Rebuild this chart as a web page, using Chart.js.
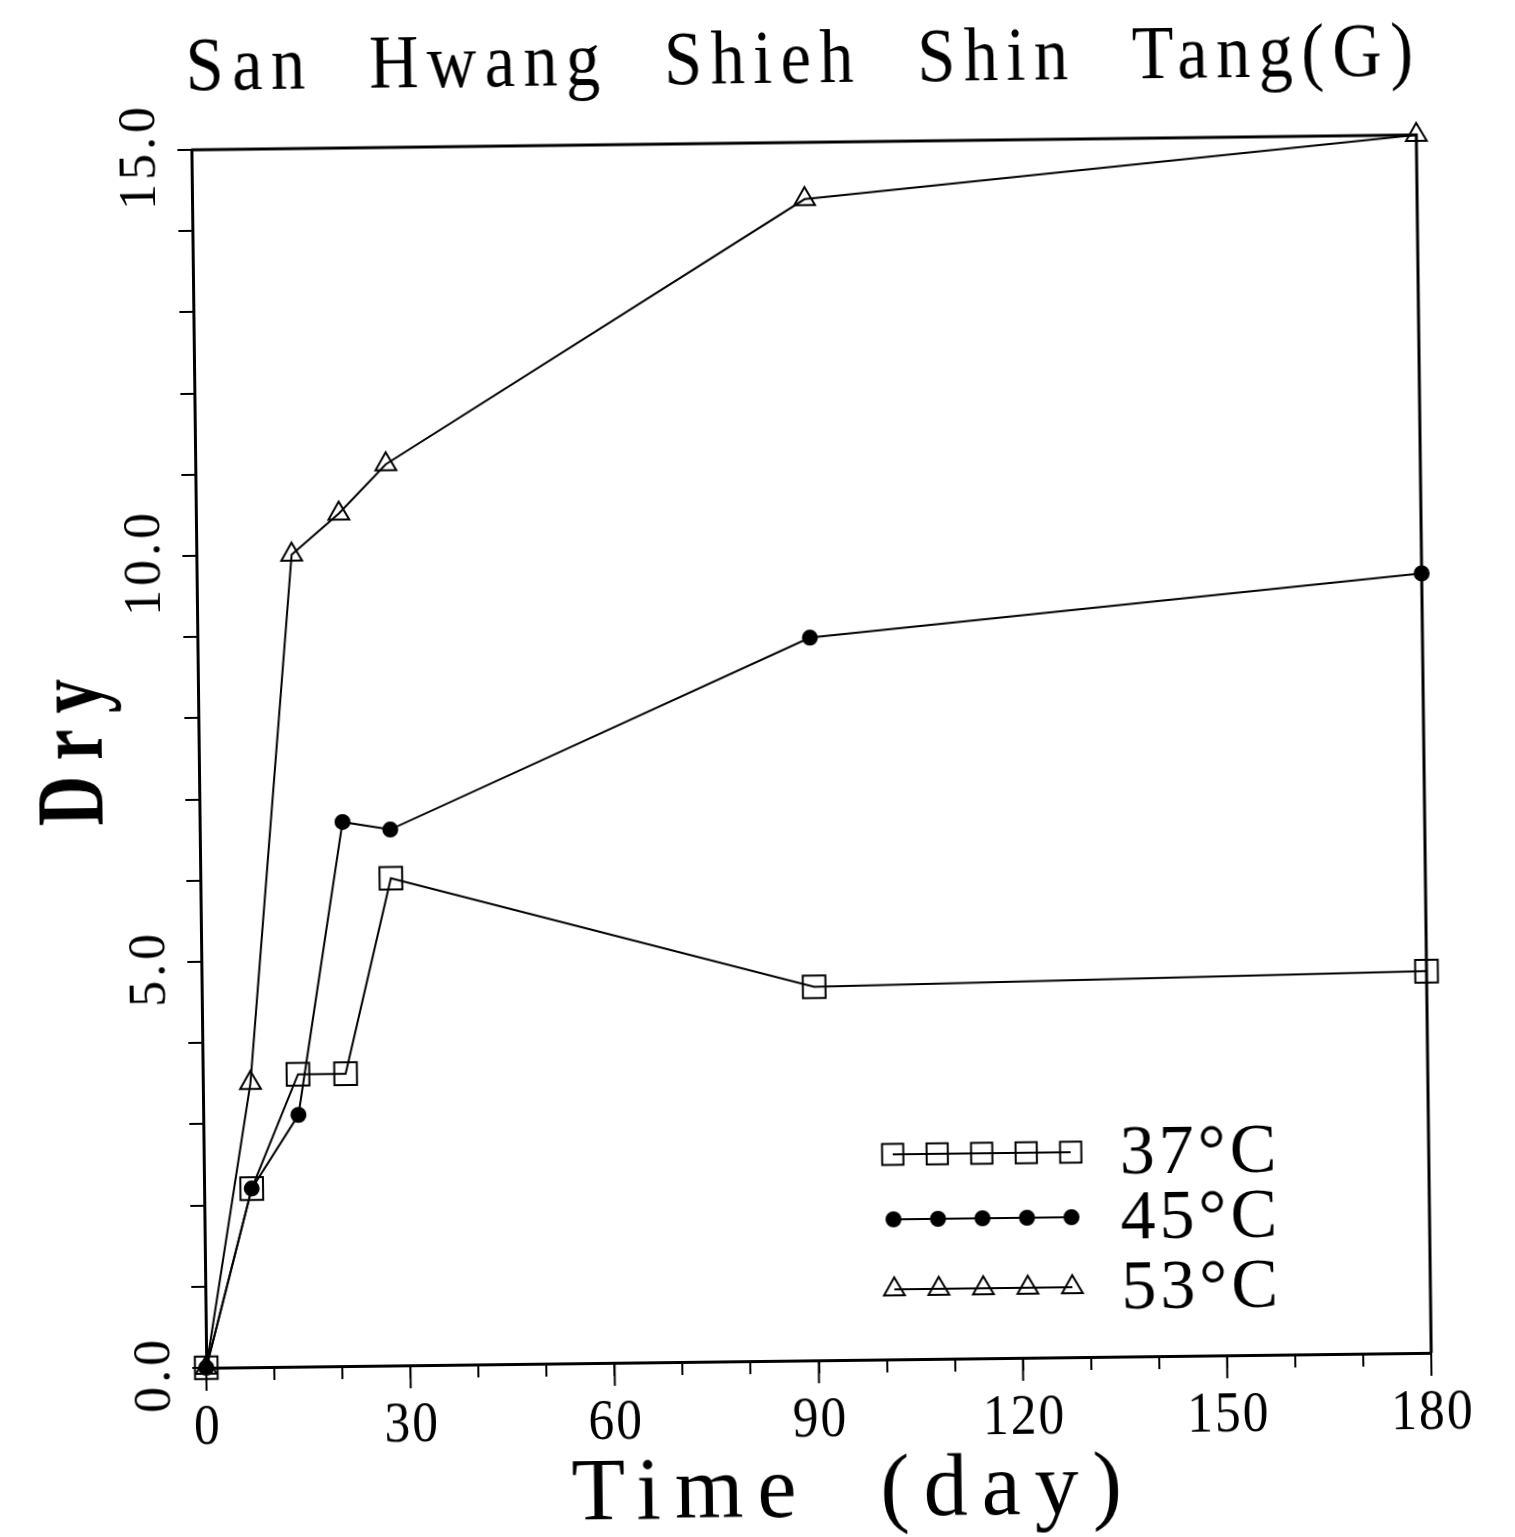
<!DOCTYPE html>
<html>
<head>
<meta charset="utf-8">
<title>San Hwang Shieh Shin Tang(G)</title>
<script src="https://cdn.jsdelivr.net/npm/chart.js@4/dist/chart.umd.min.js"></script>
<style>
    html, body { margin: 0; padding: 0; background: #fff; overflow: hidden; }
    #wrap { width: 1515px; height: 1537px; }
    /* the printed sheet sits slightly tilted */
    #dryChart { transform: rotate(-0.7deg); transform-origin: 50% 50%; }
</style>
</head>
<body>
<div id="wrap"><canvas id="dryChart" width="1515" height="1537"></canvas></div>
<script>
const days = [0, 7, 14, 21, 28, 90, 180];
const dry37 = [0, 2.2, 3.6, 3.6, 6.0, 4.6, 4.7];
const dry45 = [0, 2.2, 3.1, 6.7, 6.6, 8.9, 9.6];
const dry53 = [0, 3.5, 10.0, 10.5, 11.1, 14.3, 15.0];
const seriesLabels = ['37°C', '45°C', '53°C'];
const xTickLabels = ['0', '30', '60', '90', '120', '150', '180'];
const yTickLabels = ['0.0', '5.0', '10.0', '15.0'];

const titleText = 'San Hwang Shieh Shin Tang(G)';
const xTitle = 'Time (day)';
const yTitle = 'Dry';

const SERIF = '"Liberation Serif", "DejaVu Serif", serif';
const INK = '#000';

// marker looks per series: open square, filled dot, open triangle
const markers = [
    { style: 'rect', radius: 16, fill: 'rgba(0,0,0,0)' },
    { style: 'circle', radius: 7, fill: INK },
    { style: 'triangle', radius: 12, fill: 'rgba(0,0,0,0)' }
];

function toPoints(values) {
    return values.map((v, i) => ({ x: days[i], y: v }));
}

/**
 * Draw text centred on cx with extra letter / word spacing and optional squeeze.
 */
function spacedText(ctx, text, cx, baseline, font, spacing, sx, angle, wordGap) {
    ctx.save();
    ctx.translate(cx, baseline);
    if (angle) ctx.rotate(angle);
    ctx.scale(sx, 1);
    ctx.font = font;
    ctx.letterSpacing = (spacing / sx) + 'px';
    ctx.wordSpacing = ((wordGap || 0) / sx) + 'px';
    ctx.textAlign = 'left';
    ctx.textBaseline = 'alphabetic';
    const w = ctx.measureText(text).width - spacing / sx;
    ctx.fillStyle = INK;
    ctx.fillText(text, -w / 2, 0);
    ctx.restore();
}

function drawMarker(ctx, m, x, y) {
    ctx.save();
    ctx.lineWidth = 2;
    ctx.strokeStyle = INK;
    ctx.fillStyle = m.fill;
    ctx.beginPath();
    if (m.style === 'rect') {
        const s = m.radius * Math.SQRT1_2;
        ctx.rect(x - s, y - s, 2 * s, 2 * s);
    } else if (m.style === 'circle') {
        ctx.arc(x, y, m.radius, 0, Math.PI * 2);
    } else {
        const r = m.radius;
        ctx.moveTo(x, y - r);
        ctx.lineTo(x + r * Math.sin(Math.PI * 2 / 3), y - r * Math.cos(Math.PI * 2 / 3));
        ctx.lineTo(x + r * Math.sin(Math.PI * 4 / 3), y - r * Math.cos(Math.PI * 4 / 3));
        ctx.closePath();
    }
    ctx.fill();
    ctx.stroke();
    ctx.restore();
}

const decorations = {
    id: 'decorations',
    afterDraw(chart) {
        const { ctx, chartArea: a, scales: { x, y } } = chart;

        // frame: top and right edges
        ctx.save();
        ctx.strokeStyle = INK;
        ctx.lineWidth = 3;
        ctx.beginPath();
        ctx.moveTo(a.left, a.top);
        ctx.lineTo(a.right, a.top);
        ctx.lineTo(a.right, a.bottom);
        ctx.stroke();

        // longer ticks at every labelled day
        ctx.lineWidth = 2;
        xTickLabels.forEach(t => {
            const px = x.getPixelForValue(Number(t));
            ctx.beginPath();
            ctx.moveTo(px, a.bottom);
            ctx.lineTo(px, a.bottom + 23);
            ctx.stroke();
        });
        ctx.restore();

        // tick labels
        xTickLabels.forEach(t => {
            spacedText(ctx, t, x.getPixelForValue(Number(t)), 1437, '56px ' + SERIF, 2, 0.92, 0);
        });
        yTickLabels.forEach(t => {
            spacedText(ctx, t, 162, y.getPixelForValue(parseFloat(t)) + 8, '52px ' + SERIF, 4, 1, -Math.PI / 2);
        });

        // titles
        spacedText(ctx, titleText, 808, 83, '76px ' + SERIF, 8.4, 0.9, 0, 30);
        spacedText(ctx, xTitle, 838, 1517, '88px ' + SERIF, 14, 1, 0, 34);
        ctx.save();
        ctx.translate(102, 744);
        ctx.rotate(-Math.PI / 2);
        spacedText(ctx, yTitle, 0, 0, 'bold 96px ' + SERIF, 16, 0.72, 0);
        ctx.restore();

        // legend: a short run of five markers per series
        const rows = [1156, 1221, 1291];
        const x0 = 888, x1 = 1066;
        seriesLabels.forEach((label, i) => {
            const ry = rows[i];
            ctx.save();
            ctx.strokeStyle = INK;
            ctx.lineWidth = 2;
            ctx.beginPath();
            ctx.moveTo(x0, ry);
            ctx.lineTo(x1, ry);
            ctx.stroke();
            ctx.restore();
            for (let k = 0; k < 5; k++) {
                const m = Object.assign({}, markers[i]);
                if (m.style === 'rect') m.radius = 15;
                drawMarker(ctx, m, x0 + (x1 - x0) * k / 4, ry);
            }
            ctx.save();
            ctx.font = '70px ' + SERIF;
            ctx.letterSpacing = '4px';
            ctx.fillStyle = INK;
            ctx.textBaseline = 'alphabetic';
            ctx.fillText(label, 1115, ry + 22);
            ctx.restore();
        });
    }
};

const ctx = document.getElementById('dryChart');

new Chart(ctx, {
    type: 'line',
    data: {
        datasets: [dry37, dry45, dry53].map((vals, i) => ({
            label: seriesLabels[i],
            data: toPoints(vals),
            borderColor: INK,
            borderWidth: 2,
            tension: 0,
            fill: false,
            clip: false,
            pointStyle: markers[i].style,
            pointRadius: markers[i].radius,
            pointBackgroundColor: markers[i].fill,
            pointBorderColor: INK,
            pointBorderWidth: 2
        }))
    },
    options: {
        responsive: false,
        animation: false,
        events: [],
        layout: {
            padding: { left: 0, top: 143, right: 91, bottom: 0 }
        },
        plugins: {
            legend: { display: false },
            tooltip: { enabled: false },
            title: { display: false }
        },
        scales: {
            x: {
                type: 'linear',
                min: 0,
                max: 180,
                ticks: { stepSize: 10, display: false },
                grid: { drawOnChartArea: false, tickLength: 13, color: INK, lineWidth: 2 },
                border: { color: INK, width: 3 },
                afterFit(scale) { scale.height = 176; }
            },
            y: {
                type: 'linear',
                min: 0,
                max: 15,
                ticks: { stepSize: 1, display: false },
                grid: { drawOnChartArea: false, tickLength: 14, color: INK, lineWidth: 2 },
                border: { color: INK, width: 3 },
                afterFit(scale) { scale.width = 199; }
            }
        }
    },
    plugins: [decorations]
});
</script>
</body>
</html>
